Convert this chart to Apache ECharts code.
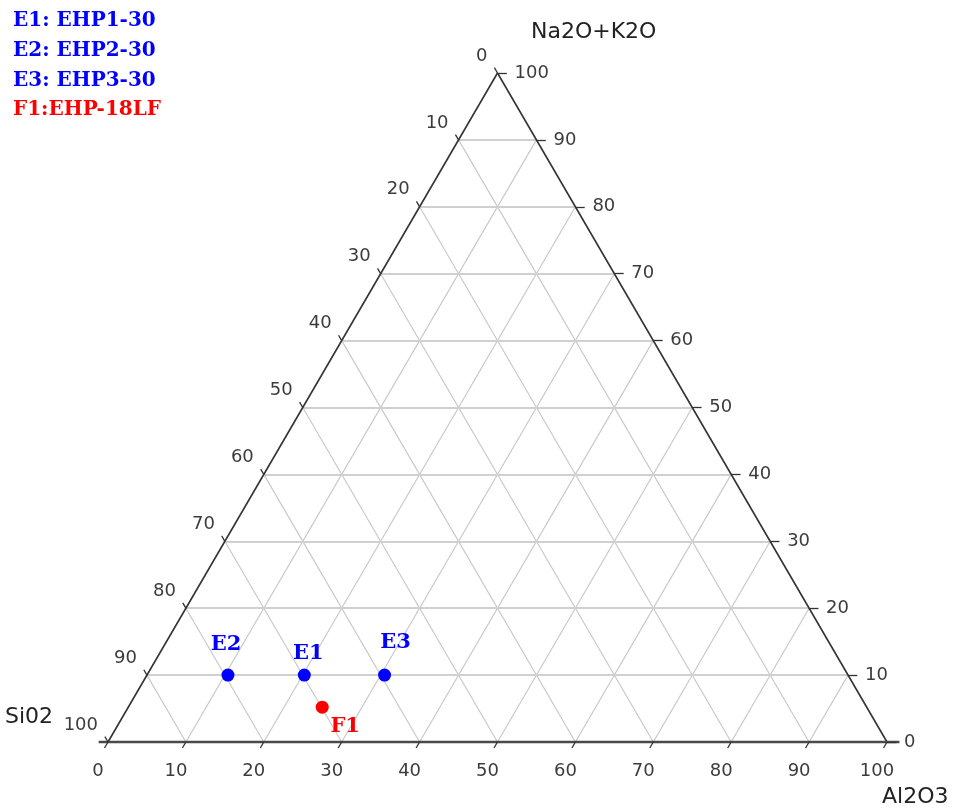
<!DOCTYPE html>
<html>
<head>
<meta charset="utf-8">
<script src="https://cdn.jsdelivr.net/npm/echarts@6/dist/echarts.min.js"></script>
<style>
html,body{margin:0;padding:0;background:#fff;}
#chart{width:955px;height:812px;}
</style>
</head>
<body>
<div id="chart"></div>
<script>
// ---- data ----
const sampleNames = ['E1', 'E2', 'E3', 'F1'];
const sampleIds = ['EHP1-30', 'EHP2-30', 'EHP3-30', 'EHP-18LF'];
const al2o3 = [20.2, 10.4, 30.5, 24.9];
const na2oK2o = [10, 10, 10, 5.2];
const sio2 = [69.8, 79.6, 59.5, 69.9];
const tickValues = [0, 10, 20, 30, 40, 50, 60, 70, 80, 90, 100];
const legendLines = ['E1: EHP1-30', 'E2: EHP2-30', 'E3: EHP3-30', 'F1:EHP-18LF'];
const axisNames = { top: 'Na2O+K2O', left: 'Si02', right: 'Al2O3' };

// ---- styles ----
const blue = '#0000ff', red = '#ff0000';
const sampleColors = [blue, blue, blue, red];
const labelOffsets = [[4, -22], [-2, -31], [11, -33], [23, 19]];
const tickFont = { fontFamily: 'DejaVu Sans', fontSize: 18, color: '#3c3c3c' };

// ternary -> cartesian (units of 0..100)
function toXY(al, na) { return [al + na / 2, na]; }

const gridLines = [];
const hLines = [];
tickValues.forEach(k => {
  if (k === 0 || k === 100) return;
  hLines.push({ coords: [toXY(0, k), toXY(100 - k, k)] });
  gridLines.push({ coords: [toXY(k, 0), toXY(k, 100 - k)] });
  gridLines.push({ coords: [toXY(k, 0), toXY(0, k)] });
});

const edges = [
  { coords: [toXY(0, 100), toXY(0, 0)] },
  { coords: [toXY(0, 100), toXY(100, 0)] }
];
const bottomEdge = [{ coords: [[-1.2, 0], toXY(100, 0), [101.6, 0]] }];

const tickMarks = [];
tickValues.forEach(k => {
  tickMarks.push({ coords: [toXY(k, 0), toXY(k, -0.9)] });
  const r = toXY(100 - k, k);
  tickMarks.push({ coords: [r, [r[0] + 1.2, r[1]]] });
  const l = toXY(0, 100 - k);
  tickMarks.push({ coords: [l, toXY(-0.8, 100 - k + 0.8)] });
});

const bottomLabels = tickValues.map(k => ({ value: toXY(k, 0), name: String(k) }));
const rightLabels = tickValues.map(k => ({ value: toXY(100 - k, k), name: String(k) }));
const leftLabels = tickValues.map(k => ({ value: toXY(0, 100 - k), name: String(k) }));

function labelSeries(data, label) {
  return {
    type: 'scatter', data: data, symbolSize: 0, silent: true, clip: false,
    itemStyle: { opacity: 1 },
    label: Object.assign({ show: true, position: 'inside', formatter: p => p.name }, tickFont, label),
    z: 5
  };
}

const chart = echarts.init(document.getElementById('chart'));
chart.setOption({
  animation: false,
  backgroundColor: '#fff',
  grid: { left: 108, right: 68, top: 73, bottom: 70 },
  xAxis: { type: 'value', min: 0, max: 100, show: false },
  yAxis: { type: 'value', min: 0, max: 100, show: false },
  graphic: legendLines.map((t, i) => ({
    type: 'text', left: 13, top: 11 + i * 29.7,
    style: { text: t, font: 'bold 20px "DejaVu Serif"', fill: sampleColors[i] }
  })).concat([
    { type: 'text', left: 531, top: 21, style: { text: axisNames.top, font: '22px "DejaVu Sans"', fill: '#222' } },
    { type: 'text', left: 5, top: 706, style: { text: axisNames.left, font: '22px "DejaVu Sans"', fill: '#222' } },
    { type: 'text', left: 882, top: 786, style: { text: axisNames.right, font: '22px "DejaVu Sans"', fill: '#222' } }
  ]),
  series: [
    { type: 'lines', coordinateSystem: 'cartesian2d', data: gridLines, silent: true,
      lineStyle: { color: '#c9c9c9', width: 1.2, opacity: 1 }, z: 1 },
    { type: 'lines', coordinateSystem: 'cartesian2d', data: hLines, silent: true,
      lineStyle: { color: '#d0d0d0', width: 1.8, opacity: 1 }, z: 1 },
    { type: 'lines', coordinateSystem: 'cartesian2d', data: edges, silent: true,
      lineStyle: { color: '#333', width: 1.6, opacity: 1 }, z: 3 },
    { type: 'lines', coordinateSystem: 'cartesian2d', polyline: true, data: bottomEdge, silent: true, clip: false,
      lineStyle: { color: '#4a4a4a', width: 2.6, opacity: 1 }, z: 3 },
    { type: 'lines', coordinateSystem: 'cartesian2d', data: tickMarks, silent: true, clip: false,
      lineStyle: { color: '#333', width: 1.3, opacity: 1 }, z: 3 },
    labelSeries(bottomLabels, { align: 'center', verticalAlign: 'middle', offset: [-10, 29] }),
    labelSeries(rightLabels, { align: 'left', verticalAlign: 'middle', offset: [17, 0] }),
    labelSeries(leftLabels, { align: 'right', verticalAlign: 'middle', offset: [-10, -17] }),
    {
      type: 'scatter', clip: false, z: 10,
      data: sampleNames.map((n, i) => ({
        name: n,
        value: toXY(al2o3[i], na2oK2o[i]).concat([sio2[i]]),
        itemStyle: { color: sampleColors[i], opacity: 1 },
        label: { show: true, position: 'inside', offset: labelOffsets[i], formatter: n,
          fontFamily: 'DejaVu Serif', fontWeight: 'bold', fontSize: 21, color: sampleColors[i] }
      })),
      symbol: 'circle', symbolSize: 13
    }
  ]
});
</script>
</body>
</html>
